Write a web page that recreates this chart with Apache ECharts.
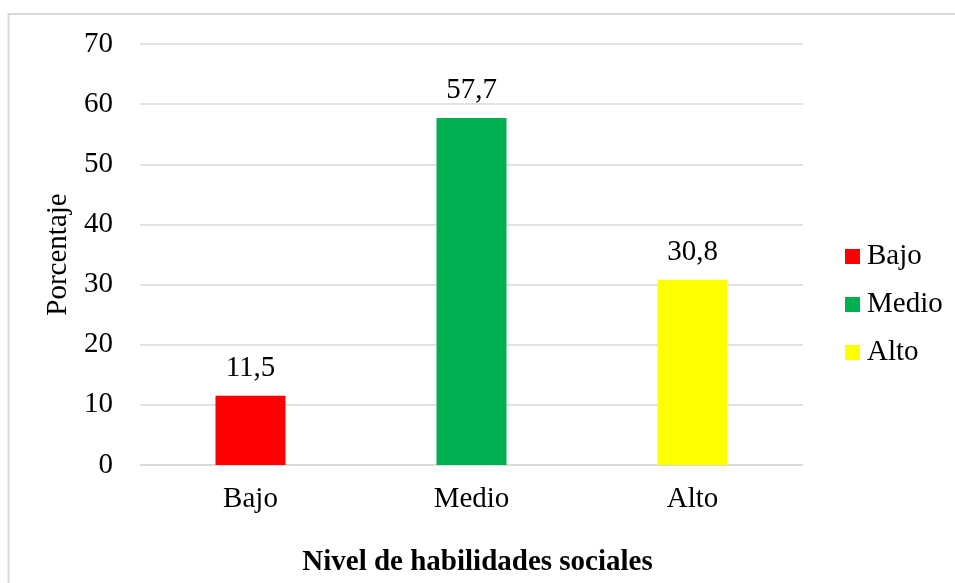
<!DOCTYPE html>
<html>
<head>
<meta charset="utf-8">
<script src="https://cdn.jsdelivr.net/npm/echarts@6/dist/echarts.min.js"></script>
<style>
html,body{margin:0;padding:0;background:#fff;}
#c{width:955px;height:583px;}
</style>
</head>
<body>
<div id="c"></div>
<script>
const categories = ['Bajo', 'Medio', 'Alto'];
const values = [11.5, 57.7, 30.8];
const colors = ['#FF0000', '#00B050', '#FFFF00'];
const yTicks = [0, 10, 20, 30, 40, 50, 60, 70];
const yAxisName = 'Porcentaje';
const xAxisTitle = 'Nivel de habilidades sociales';

const FONT = '"Liberation Serif", "Times New Roman", serif';
const FS = 29;

const series = categories.map((c, i) => ({
  name: c,
  type: 'bar',
  stack: 'all',
  barWidth: 70,
  itemStyle: { color: colors[i] },
  data: categories.map((_, j) => (j === i ? values[i] : null)),
  label: {
    show: true,
    position: 'top',
    distance: 13,
    color: '#000',
    fontFamily: FONT,
    fontSize: FS,
    formatter: p => String(p.value).replace('.', ',')
  }
}));

const chart = echarts.init(document.getElementById('c'), null, { renderer: 'canvas' });
chart.setOption({
  animation: false,
  backgroundColor: '#fff',
  graphic: [{
    type: 'rect',
    shape: { x: 8.5, y: 14, width: 1100, height: 1000 },
    style: { fill: 'none', stroke: '#d9d9d9', lineWidth: 2 },
    silent: true, z: -10
  }],
  title: {
    text: xAxisTitle,
    left: 'center',
    top: 543,
    textStyle: { fontFamily: FONT, fontSize: FS, fontWeight: 'bold', color: '#000' }
  },
  legend: {
    orient: 'vertical',
    left: 845,
    top: 242,
    padding: 0,
    itemWidth: 15,
    itemHeight: 15,
    itemGap: 19,
    icon: 'rect',
    data: categories,
    textStyle: { fontFamily: FONT, fontSize: FS, color: '#000', lineHeight: 29, padding: [0, 0, 0, 2] }
  },
  grid: { left: 140, right: 152, top: 44, bottom: 118, containLabel: false },
  xAxis: {
    type: 'category',
    data: categories,
    axisLine: { lineStyle: { color: '#d9d9d9', width: 1.5 } },
    axisTick: { show: false },
    axisLabel: { color: '#000', fontFamily: FONT, fontSize: FS, margin: 20 }
  },
  yAxis: {
    type: 'value',
    min: yTicks[0],
    max: yTicks[yTicks.length - 1],
    interval: 10,
    name: yAxisName,
    nameLocation: 'middle',
    nameGap: 60,
    nameTextStyle: { color: '#000', fontFamily: FONT, fontSize: FS },
    axisLine: { show: false },
    axisTick: { show: false },
    axisLabel: { color: '#000', fontFamily: FONT, fontSize: FS, margin: 27 },
    splitLine: { lineStyle: { color: '#d9d9d9', width: 1.5 } }
  },
  series: series
});
</script>
</body>
</html>
